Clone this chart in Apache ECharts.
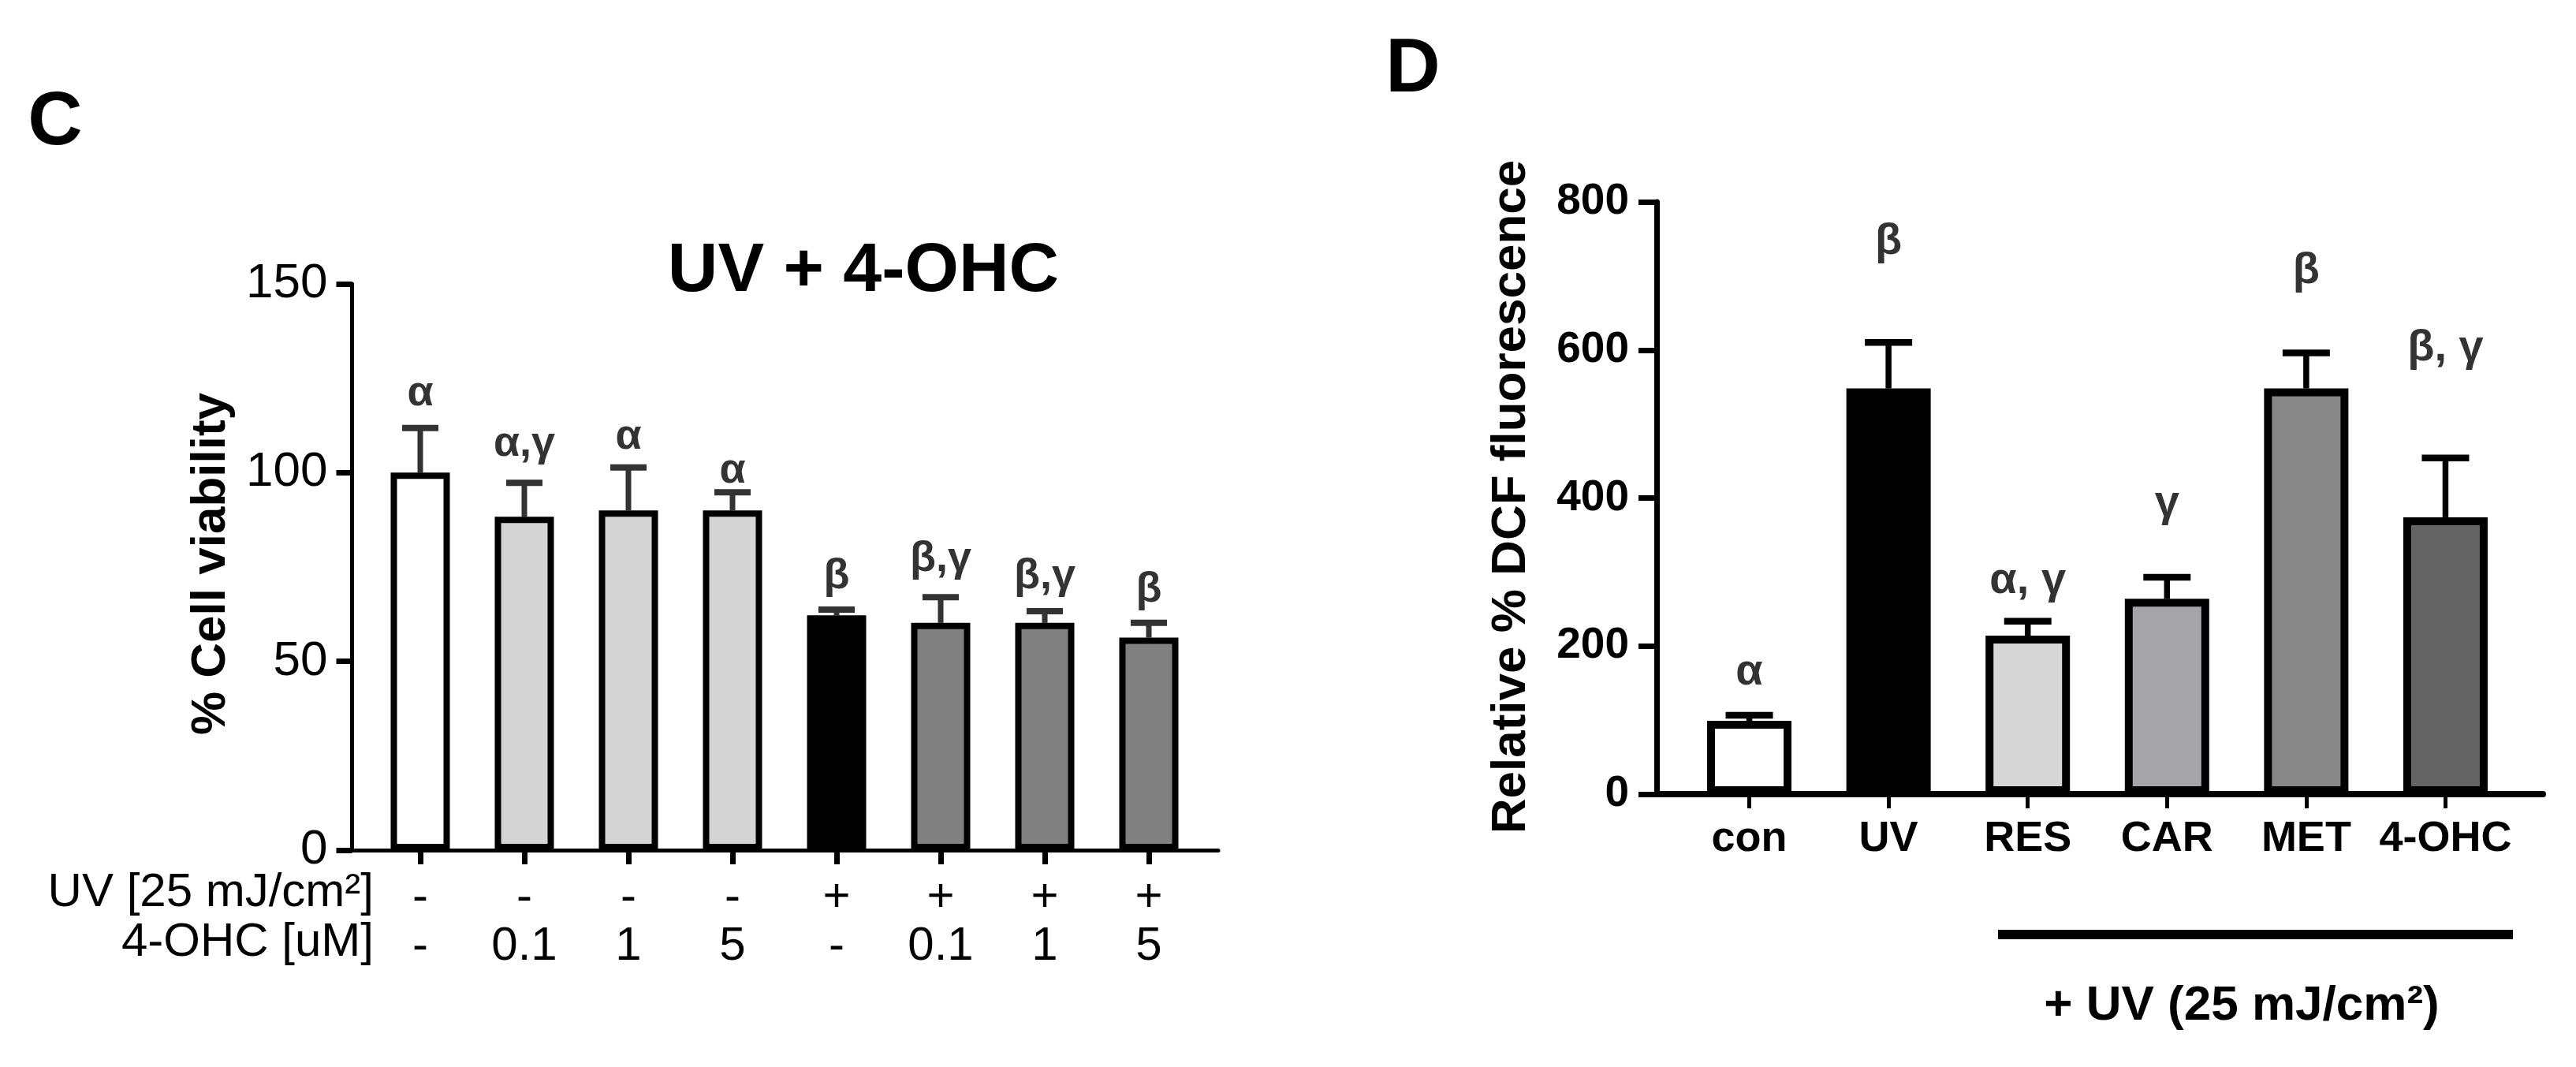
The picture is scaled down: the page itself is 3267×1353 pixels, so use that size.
<!DOCTYPE html>
<html>
<head>
<meta charset="utf-8">
<script src="https://cdn.jsdelivr.net/npm/echarts@6/dist/echarts.min.js"></script>
<style>
  html, body { margin: 0; padding: 0; background: #fff; }
  #chart { width: 3267px; height: 1353px; }
</style>
</head>
<body>
<div id="chart"></div>
<script>
// ---------- Panel C data : UV + 4-OHC, % cell viability ----------
const cUV = ['-', '-', '-', '-', '+', '+', '+', '+'];
const cOHC = ['-', '0.1', '1', '5', '-', '0.1', '1', '5'];
const cCategories = ['UV- 0', 'UV- 0.1', 'UV- 1', 'UV- 5', 'UV+ 0', 'UV+ 0.1', 'UV+ 1', 'UV+ 5'];
const cViability = [100, 88.3, 90, 90, 62.2, 60.2, 60.2, 56.3];
const cSD = [11.8, 9, 11.4, 4.8, 1.5, 6.8, 3.1, 3.9];
const cLetters = ['α', 'α,γ', 'α', 'α', 'β', 'β,γ', 'β,γ', 'β'];
const cLetterY = [121, 107.5, 109.5, 100.5, 72.5, 77, 72.5, 69];
const cTicks = [0, 50, 100, 150];

// ---------- Panel D data : relative % DCF fluorescence ----------
const dCategories = ['con', 'UV', 'RES', 'CAR', 'MET', '4-OHC'];
const dDCF = [99, 548, 214, 264, 548, 374];
const dSD = [7.5, 62, 19.5, 29, 48, 80];
const dLetters = ['α', 'β', 'α, γ', 'γ', 'β', 'β, γ'];
const dLetterY = [165, 746, 288, 392, 707, 602];
const dTicks = [0, 200, 400, 600, 800];

// ---------- styles ----------
const NARROW = "'Liberation Sans Narrow', 'Arial Narrow', 'Liberation Sans', Arial, sans-serif";
const SANS = "'Liberation Sans', Arial, Helvetica, sans-serif";
const cColors = ['#ffffff', '#d4d4d4', '#d4d4d4', '#d4d4d4', '#000000', '#808080', '#808080', '#808080'];
const dColors = ['#ffffff', '#000000', '#d6d6d6', '#a5a4a9', '#878787', '#646464'];

function errRender(capHalf, lw, capLw, color) {
  return function (params, api) {
    const x = api.value(0), m = api.value(1), e = api.value(2);
    const p0 = api.coord([x, m]);
    const p1 = api.coord([x, m + e]);
    return {
      type: 'group',
      children: [
        { type: 'line', shape: { x1: p0[0], y1: p0[1], x2: p1[0], y2: p1[1] },
          style: { stroke: color, lineWidth: lw } },
        { type: 'line', shape: { x1: p1[0] - capHalf, y1: p1[1], x2: p1[0] + capHalf, y2: p1[1] },
          style: { stroke: color, lineWidth: capLw } }
      ]
    };
  };
}

const chart = echarts.init(document.getElementById('chart'), null, { renderer: 'canvas' });

const option = {
  animation: false,
  backgroundColor: '#ffffff',
  grid: [
    { left: 446.5, top: 360, width: 1098.5, height: 718 },   // C frame
    { left: 467, top: 360, width: 1056, height: 718 },       // C bars
    { left: 2101, top: 256, width: 1124, height: 751 },      // D frame
    { left: 2130.25, top: 256, width: 1059.5, height: 751 }  // D bars
  ],
  xAxis: [
    { gridIndex: 0, type: 'value', min: 0, max: 1,
      axisLine: { show: true, lineStyle: { color: '#000', width: 5 } },
      axisTick: { show: false }, axisLabel: { show: false }, splitLine: { show: false } },
    { gridIndex: 1, type: 'category', data: cCategories,
      axisLine: { show: false },
      axisTick: { show: true, alignWithLabel: true, length: 18, lineStyle: { color: '#000', width: 7 } },
      axisLabel: {
        interval: 0, margin: 29, color: '#000',
        formatter: function (v, i) { return '{u|' + cUV[i] + '}\n{c|' + cOHC[i] + '}'; },
        rich: {
          u: { fontFamily: NARROW, fontSize: 60, lineHeight: 62, color: '#000' },
          c: { fontFamily: NARROW, fontSize: 60, lineHeight: 62, color: '#000' }
        }
      },
      splitLine: { show: false } },
    { gridIndex: 2, type: 'value', min: 0, max: 1,
      axisLine: { show: true, lineStyle: { color: '#000', width: 8 } },
      axisTick: { show: false }, axisLabel: { show: false }, splitLine: { show: false } },
    { gridIndex: 3, type: 'category', data: dCategories,
      axisLine: { show: false },
      axisTick: { show: true, alignWithLabel: true, length: 18, lineStyle: { color: '#000', width: 5 } },
      axisLabel: { interval: 0, margin: 30, color: '#000', fontFamily: SANS, fontWeight: 'bold', fontSize: 54 },
      splitLine: { show: false } }
  ],
  yAxis: [
    { gridIndex: 0, type: 'value', min: cTicks[0], max: cTicks[cTicks.length - 1], interval: 50,
      axisLine: { show: true, lineStyle: { color: '#000', width: 5 } },
      axisTick: { show: true, length: 20, lineStyle: { color: '#000', width: 7 } },
      axisLabel: { margin: 31, color: '#000', fontFamily: NARROW, fontSize: 62 },
      splitLine: { show: false } },
    { gridIndex: 1, type: 'value', min: cTicks[0], max: cTicks[cTicks.length - 1], show: false, splitLine: { show: false } },
    { gridIndex: 2, type: 'value', min: dTicks[0], max: dTicks[dTicks.length - 1], interval: 200,
      axisLine: { show: true, lineStyle: { color: '#000', width: 7 } },
      axisTick: { show: true, length: 23, lineStyle: { color: '#000', width: 7 } },
      axisLabel: { margin: 35, color: '#000', fontFamily: SANS, fontWeight: 'bold', fontSize: 55 },
      splitLine: { show: false } },
    { gridIndex: 3, type: 'value', min: dTicks[0], max: dTicks[dTicks.length - 1], show: false, splitLine: { show: false } }
  ],
  series: [
    // Panel C
    { type: 'custom', xAxisIndex: 1, yAxisIndex: 1, z: 2,
      renderItem: errRender(23, 7, 8, '#333333'),
      encode: { x: 0, y: 1 },
      data: cViability.map(function (v, i) { return [i, v, cSD[i]]; }) },
    { type: 'bar', xAxisIndex: 1, yAxisIndex: 1, z: 3, barWidth: 75,
      data: cViability.map(function (v, i) {
        return { value: v, itemStyle: { color: cColors[i], borderColor: '#000', borderWidth: 8 } };
      }) },
    { type: 'scatter', xAxisIndex: 1, yAxisIndex: 1, z: 5, symbolSize: 1, silent: true,
      itemStyle: { color: 'rgba(0,0,0,0)' },
      data: cLetterY.map(function (y, i) { return [i, y]; }),
      label: { show: true, position: 'inside', color: '#000', fontFamily: SANS, fontWeight: 'bold', fontSize: 54,
        formatter: function (p) { return cLetters[p.dataIndex]; } } },
    // Panel D
    { type: 'custom', xAxisIndex: 3, yAxisIndex: 3, z: 2,
      renderItem: errRender(30, 7.5, 8.5, '#000000'),
      encode: { x: 0, y: 1 },
      data: dDCF.map(function (v, i) { return [i, v, dSD[i]]; }) },
    { type: 'bar', xAxisIndex: 3, yAxisIndex: 3, z: 3, barWidth: 107,
      data: dDCF.map(function (v, i) {
        return { value: v, itemStyle: { color: dColors[i], borderColor: '#000', borderWidth: 10 } };
      }) },
    { type: 'scatter', xAxisIndex: 3, yAxisIndex: 3, z: 5, symbolSize: 1, silent: true,
      itemStyle: { color: 'rgba(0,0,0,0)' },
      data: dLetterY.map(function (y, i) { return [i, y]; }),
      label: { show: true, position: 'inside', color: '#000', fontFamily: SANS, fontWeight: 'bold', fontSize: 56,
        formatter: function (p) { return dLetters[p.dataIndex]; } } }
  ],
  graphic: [
    { type: 'text', x: 70, y: 157, style: { text: 'C', fill: '#000', font: 'bold 96px ' + NARROW,
      textAlign: 'center', textVerticalAlign: 'middle', align: 'center', verticalAlign: 'middle' } },
    { type: 'text', x: 1792, y: 90, style: { text: 'D', fill: '#000', font: 'bold 96px ' + NARROW,
      textAlign: 'center', textVerticalAlign: 'middle', align: 'center', verticalAlign: 'middle' } },
    { type: 'text', x: 1095, y: 345, style: { text: 'UV + 4-OHC', fill: '#000', font: 'bold 88px ' + SANS,
      textAlign: 'center', textVerticalAlign: 'middle', align: 'center', verticalAlign: 'middle' } },
    { type: 'text', x: 268, y: 715, rotation: Math.PI / 2,
      style: { text: '% Cell viability', fill: '#000', font: 'bold 62px ' + SANS,
      textAlign: 'center', textVerticalAlign: 'middle', align: 'center', verticalAlign: 'middle' } },
    { type: 'text', x: 1917, y: 630, rotation: Math.PI / 2,
      style: { text: 'Relative % DCF fluorescence', fill: '#000', font: 'bold 62px ' + SANS,
      textAlign: 'center', textVerticalAlign: 'middle', align: 'center', verticalAlign: 'middle' } },
    { type: 'text', x: 474, y: 1132, style: { text: 'UV [25 mJ/cm²]', fill: '#000', font: '60px ' + NARROW,
      textAlign: 'right', textVerticalAlign: 'middle', align: 'right', verticalAlign: 'middle' } },
    { type: 'text', x: 474, y: 1195, style: { text: '4-OHC [uM]', fill: '#000', font: '60px ' + NARROW,
      textAlign: 'right', textVerticalAlign: 'middle', align: 'right', verticalAlign: 'middle' } },
    { type: 'line', shape: { x1: 2534, y1: 1185, x2: 3187, y2: 1185 }, style: { stroke: '#000', lineWidth: 12 } },
    { type: 'text', x: 2843, y: 1276, style: { text: '+ UV (25 mJ/cm²)', fill: '#000', font: 'bold 62px ' + SANS,
      textAlign: 'center', textVerticalAlign: 'middle', align: 'center', verticalAlign: 'middle' } }
  ]
};

chart.setOption(option);
</script>
</body>
</html>
